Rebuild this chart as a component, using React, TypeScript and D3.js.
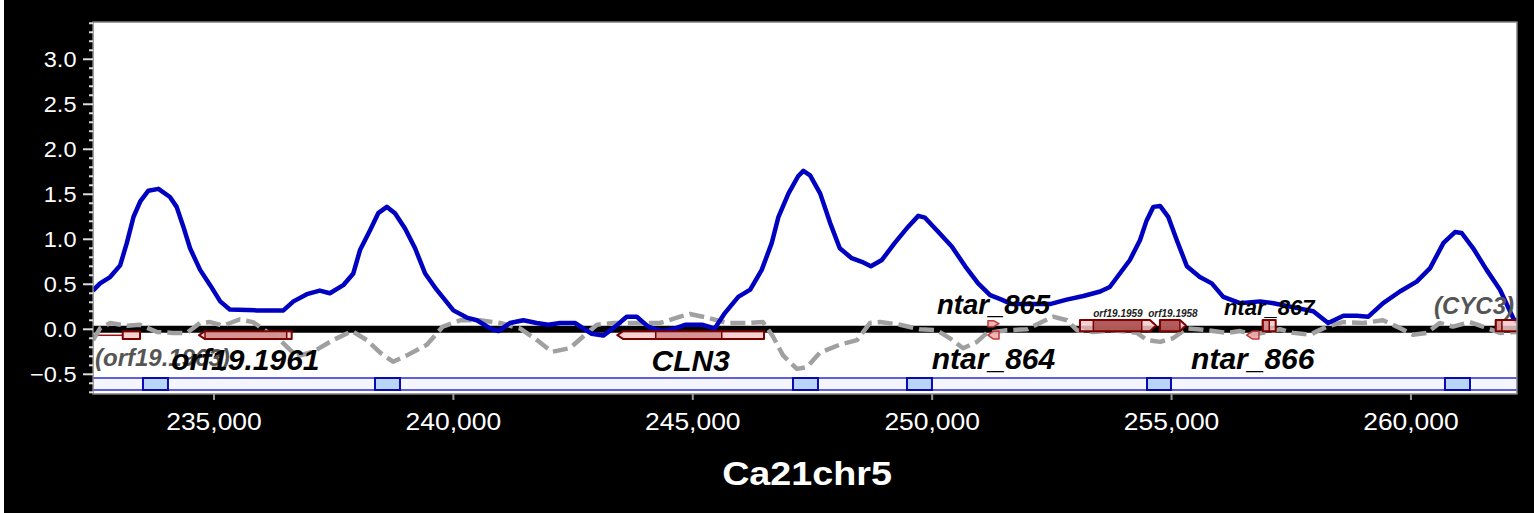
import React from "react";
import * as d3 from "d3";

const W = 1534;
const H = 513;
const PLOT = { left: 93, right: 1517, top: 22, bottom: 394 };
const X_DOMAIN = [232473, 262215];
const Y_DOMAIN = [-0.719, 3.414];

const Y_TICKS = [-0.5, 0, 0.5, 1, 1.5, 2, 2.5, 3];
const X_TICKS = [235000, 240000, 245000, 250000, 255000, 260000];
const AXIS_TITLE = "Ca21chr5";

// blue signal (solid)
const bluePos = [232473, 232620, 232830, 233040, 233180, 233320, 233460, 233630, 233840, 234080, 234220, 234360, 234500, 234710, 234920, 235130, 235330, 235890, 236450, 236660, 236940, 237210, 237420, 237700, 237910, 238050, 238260, 238430, 238610, 238780, 238990, 239200, 239410, 239650, 240000, 240280, 240490, 240770, 240940, 241180, 241460, 241740, 241980, 242230, 242540, 242890, 243130, 243380, 243620, 243830, 244070, 244350, 244630, 244840, 245190, 245460, 245670, 245950, 246200, 246440, 246650, 246790, 247000, 247200, 247310, 247450, 247660, 247870, 248070, 248320, 248530, 248720, 248950, 249220, 249500, 249710, 249850, 250130, 250410, 250690, 250960, 251210, 251450, 251660, 252040, 252460, 252810, 253160, 253510, 253710, 253920, 254130, 254340, 254480, 254620, 254760, 254930, 255110, 255320, 255590, 255840, 256080, 256430, 256850, 257130, 257680, 257960, 258270, 258590, 258870, 259110, 259420, 259770, 260120, 260400, 260680, 260920, 261060, 261300, 261580, 261860, 262140, 262215];
const blueVal = [0.43, 0.51, 0.58, 0.71, 0.96, 1.25, 1.42, 1.54, 1.56, 1.47, 1.36, 1.14, 0.9, 0.66, 0.49, 0.31, 0.22, 0.21, 0.21, 0.31, 0.39, 0.43, 0.4, 0.49, 0.62, 0.88, 1.1, 1.29, 1.36, 1.29, 1.12, 0.9, 0.62, 0.44, 0.21, 0.13, 0.1, 0.01, -0.02, 0.07, 0.1, 0.07, 0.05, 0.07, 0.07, -0.05, -0.07, 0.03, 0.14, 0.14, 0.03, -0.02, 0.01, 0.05, 0.05, 0.01, 0.18, 0.36, 0.44, 0.66, 0.96, 1.25, 1.51, 1.7, 1.76, 1.71, 1.51, 1.18, 0.9, 0.79, 0.75, 0.7, 0.77, 0.96, 1.14, 1.26, 1.24, 1.08, 0.92, 0.7, 0.51, 0.38, 0.33, 0.28, 0.28, 0.28, 0.33, 0.37, 0.42, 0.47, 0.62, 0.77, 0.99, 1.21, 1.36, 1.37, 1.25, 0.99, 0.7, 0.58, 0.51, 0.36, 0.29, 0.31, 0.29, 0.23, 0.2, 0.07, 0.15, 0.15, 0.14, 0.29, 0.42, 0.53, 0.68, 0.96, 1.08, 1.07, 0.9, 0.66, 0.44, 0.12, 0.08];

// gray signal (dashed)
const grayPos = [232473, 232620, 232830, 233180, 233455, 233810, 234140, 234435, 234710, 234920, 235190, 235540, 235815, 236110, 236380, 236730, 237070, 237485, 237880, 238195, 238470, 238740, 239030, 239450, 239780, 240140, 240555, 240975, 241390, 241745, 242060, 242435, 242710, 243000, 243335, 243690, 244315, 244735, 244940, 245300, 245715, 246130, 246465, 246675, 246885, 247175, 247385, 247655, 248075, 248430, 248700, 248910, 249330, 249745, 250100, 250370, 250645, 250935, 251145, 251560, 251980, 252250, 252525, 252815, 253025, 253360, 253775, 254280, 254485, 254760, 255030, 255320, 255740, 256160, 256430, 256700, 256995, 257265, 257540, 257890, 258245, 258580, 258995, 259415, 259705, 260040, 260330, 260600, 260875, 261230, 261505, 261860, 262215];
const grayVal = [-0.12, 0.01, 0.07, 0.04, 0.05, -0.03, -0.04, -0.04, 0.07, 0.08, 0.04, 0.11, 0.08, -0.03, -0.12, -0.3, -0.25, -0.12, -0.02, -0.12, -0.26, -0.36, -0.29, -0.17, 0.03, 0.1, 0.1, 0.07, 0.01, -0.12, -0.25, -0.21, -0.08, 0.05, 0.07, 0.07, 0.07, 0.14, 0.17, 0.13, 0.07, 0.07, 0.08, -0.08, -0.29, -0.44, -0.42, -0.26, -0.17, -0.12, 0.07, 0.08, 0.05, 0.0, -0.01, -0.1, -0.21, -0.14, -0.04, -0.01, 0.0, 0.07, 0.14, 0.1, -0.01, -0.03, -0.01, -0.04, -0.12, -0.14, -0.1, 0.01, -0.01, -0.04, -0.02, -0.06, -0.03, 0.0, -0.04, -0.06, 0.03, 0.08, 0.07, 0.1, 0.03, -0.06, -0.04, 0.07, 0.03, 0.08, 0.03, -0.04, -0.03];

// blue feature track
const markerStarts = [233517, 238363, 247093, 249474, 254487, 260711];
const markerEnds = [234039, 238885, 247615, 249996, 254988, 261233];

// genes
const geneNames = ["orf19.1963", "orf19.1961", "CLN3", "ntar_865", "ntar_864", "orf19.1959", "orf19.1958", "ntar_867", "ntar_866", "CYC3"];
const geneStarts = [233094, 234687, 243424, 251166, 251166, 253087, 254757, 256903, 256568, 261770];
const geneEnds = [233455, 236623, 246488, 251396, 251396, 254674, 255300, 257175, 256825, 263500];
const geneStrands = [0, -1, -1, 1, -1, 1, 1, 0, -1, 0];
const geneRows = ["down", "down", "down", "upSmall", "down", "up", "up", "up", "down", "up"];
// inner darker parts [start, end, tone]
const geneParts: [number, number, string][][] = [
  [],
  [[234812, 236519, "mid"]],
  [[244226, 245605, "mid"]],
  [],
  [],
  [[253366, 254377, "dark"]],
  [[254757, 255300, "dark"]],
  [[256903, 257040, "mid"]],
  [],
  [[261770, 261900, "mid"]],
];
const geneLabels = ["(orf19.1963)", "orf19.1961", "CLN3", "ntar_865", "ntar_864", "orf19.1959", "orf19.1958", "ntar_867", "ntar_866", "(CYC3)"];
const labelSizes = [24, 30, 30, 27.5, 30, 10, 10, 22, 30, 24];
const labelBaselines = [366, 370, 370.5, 313.5, 369, 316.5, 316.5, 314.5, 369, 313.5];
const labelAlign = ["start", "middle", "middle", "middle", "middle", "middle", "middle", "middle", "middle", "end"];
const labelColors = ["#555555", "#000000", "#000000", "#000000", "#000000", "#222222", "#222222", "#000000", "#000000", "#555555"];

const TONES: Record<string, string> = { light: "#f4c9c9", mid: "#d08a8a", dark: "#a84848" };

export default function App() {
  const x = d3.scaleLinear().domain(X_DOMAIN).range([PLOT.left, PLOT.right]);
  const y = d3.scaleLinear().domain(Y_DOMAIN).range([PLOT.bottom, PLOT.top]);
  const y0 = y(0);

  const mkPath = (pos: number[], val: number[]) =>
    d3
      .line<number>()
      .x((d, i) => x(pos[i]))
      .y((d) => y(d))
      .curve(d3.curveLinear)(val) || "";

  const bluePath = mkPath(bluePos, blueVal);
  const grayPath = mkPath(grayPos, grayVal);

  const rowBox = (row: string): [number, number] => {
    if (row === "up") return [y0 - 9.3, y0 + 1.9];
    if (row === "upSmall") return [y0 - 8.6, y0 - 2.6];
    return [y0 + 1.9, y0 + 9.8];
  };

  const outline = (x0: number, x1: number, t: number, b: number, strand: number) => {
    const a = Math.min(6, (x1 - x0) / 2);
    const m = (t + b) / 2;
    if (strand > 0) return `M${x0},${t}L${x1 - a},${t}L${x1},${m}L${x1 - a},${b}L${x0},${b}Z`;
    if (strand < 0) return `M${x0 + a},${t}L${x1},${t}L${x1},${b}L${x0 + a},${b}L${x0},${m}Z`;
    return `M${x0},${t}L${x1},${t}L${x1},${b}L${x0},${b}Z`;
  };

  const minor = d3.range(-7, 35).map((v) => v / 10).filter((v) => Math.abs(Math.round(v * 2) / 2 - v) > 1e-6);

  const fontGene = "'Liberation Sans', Arial, sans-serif";

  return (
    <svg
      width={W}
      height={H}
      style={{ position: "absolute", left: 0, top: 0, display: "block" }}
      xmlns="http://www.w3.org/2000/svg"
    >
      <defs>
        <clipPath id="plotClip">
          <rect x={PLOT.left} y={PLOT.top} width={PLOT.right - PLOT.left} height={PLOT.bottom - PLOT.top} />
        </clipPath>
      </defs>
      <rect x={0} y={0} width={W} height={H} fill="#000" />
      <rect x={0} y={0} width={4} height={H} fill="#fff" />
      <rect x={PLOT.left} y={PLOT.top} width={PLOT.right - PLOT.left} height={PLOT.bottom - PLOT.top} fill="#fff" />

      <g clipPath="url(#plotClip)">
        {/* feature band */}
        <rect x={PLOT.left} y={378} width={PLOT.right - PLOT.left} height={12} fill="#f5f5ff" />
        <line x1={PLOT.left} x2={PLOT.right} y1={378} y2={378} stroke="#2b2bd0" strokeWidth={1.3} />
        <line x1={PLOT.left} x2={PLOT.right} y1={390} y2={390} stroke="#2b2bd0" strokeWidth={1.3} />
        {markerStarts.map((s, i) => (
          <rect key={i} x={x(s)} y={378} width={x(markerEnds[i]) - x(s)} height={12} fill="#b9d5f5" stroke="#0a0ab4" strokeWidth={2} />
        ))}

        {/* zero line */}
        <line x1={PLOT.left} x2={PLOT.right} y1={y0} y2={y0} stroke="#000" strokeWidth={7} />

        {/* orf19.1963 leader line */}
        <line x1={PLOT.left} x2={x(geneStarts[0])} y1={y0 + 6} y2={y0 + 6} stroke="#a01010" strokeWidth={1.5} />

        <path d={grayPath} fill="none" stroke="#a0a0a0" strokeWidth={4.5} strokeDasharray="15 6" strokeLinejoin="round" />
        <path d={bluePath} fill="none" stroke="#0000c0" strokeWidth={4.5} strokeLinejoin="round" />

        {/* genes */}
        {geneNames.map((n, i) => {
          const [t, b] = rowBox(geneRows[i]);
          const x0 = x(geneStarts[i]);
          const x1 = x(geneEnds[i]);
          const small = n === "ntar_864" || n === "ntar_865" || n === "ntar_866";
          const a = Math.min(6, (x1 - x0) / 2);
          return (
            <g key={n}>
              <path d={outline(x0, x1, t, b, geneStrands[i])} fill={small ? "#eeaaaa" : TONES.light} fillOpacity={0.85} />
              {geneParts[i].map(([s, e, tone], k) => {
                let px0 = x(s);
                let px1 = x(e);
                if (geneStrands[i] < 0) px0 = Math.max(px0, x0 + a);
                if (geneStrands[i] > 0) px1 = Math.min(px1, x1 - a);
                return (
                  <g key={k}>
                    <rect x={px0} y={t} width={Math.max(0, px1 - px0)} height={b - t} fill={TONES[tone]} fillOpacity={0.85} />
                    <line x1={px0} x2={px0} y1={t} y2={b} stroke="#7b0000" strokeWidth={1.5} />
                    <line x1={px1} x2={px1} y1={t} y2={b} stroke="#7b0000" strokeWidth={1.5} />
                  </g>
                );
              })}
              <path
                d={outline(x0, x1, t, b, geneStrands[i])}
                fill="none"
                stroke={small ? "#c03a3a" : "#7b0000"}
                strokeWidth={small ? 1.5 : 2}
                strokeLinejoin="round"
              />
            </g>
          );
        })}

        {/* gene labels */}
        {geneLabels.map((lab, i) => {
          const align = labelAlign[i];
          const lx = align === "start" ? PLOT.left + 2 : align === "end" ? PLOT.right - 3 : (x(geneStarts[i]) + x(geneEnds[i])) / 2;
          return (
            <text
              key={lab}
              x={lx}
              y={labelBaselines[i]}
              textAnchor={align}
              fontFamily={fontGene}
              fontWeight="bold"
              fontStyle="italic"
              fontSize={labelSizes[i]}
              fill={labelColors[i]}
            >
              {lab}
            </text>
          );
        })}
      </g>

      {/* plot frame */}
      <rect
        x={PLOT.left}
        y={PLOT.top}
        width={PLOT.right - PLOT.left}
        height={PLOT.bottom - PLOT.top}
        fill="none"
        stroke="#808080"
        strokeWidth={1.5}
      />

      {/* y axis */}
      {minor.map((v, i) => (
        <line key={"m" + i} x1={PLOT.left - 4} x2={PLOT.left} y1={y(v)} y2={y(v)} stroke="#dddddd" strokeWidth={2} />
      ))}
      {Y_TICKS.map((v) => (
        <g key={"y" + v}>
          <line x1={PLOT.left - 10} x2={PLOT.left} y1={y(v)} y2={y(v)} stroke="#dddddd" strokeWidth={2} />
          <text
            transform={`translate(76.5,${y(v) + 7.6}) scale(1.07,1)`}
            textAnchor="end"
            fontFamily={fontGene}
            fontSize={22}
            fill="#fff"
          >
            {d3.format(".1f")(v)}
          </text>
        </g>
      ))}

      {/* x axis */}
      {X_TICKS.map((v) => (
        <g key={"x" + v}>
          <line x1={x(v)} x2={x(v)} y1={PLOT.bottom} y2={PLOT.bottom + 6} stroke="#999" strokeWidth={2} />
          <text
            transform={`translate(${x(v)},430) scale(1.15,1)`}
            textAnchor="middle"
            fontFamily={fontGene}
            fontSize={23}
            fill="#fff"
          >
            {d3.format(",")(v)}
          </text>
        </g>
      ))}
      <text
        transform={`translate(${(PLOT.left + PLOT.right) / 2 + 2},484.5) scale(1.16,1)`}
        textAnchor="middle"
        fontFamily={fontGene}
        fontWeight="bold"
        fontSize={32.5}
        fill="#fff"
      >
        {AXIS_TITLE}
      </text>
    </svg>
  );
}
